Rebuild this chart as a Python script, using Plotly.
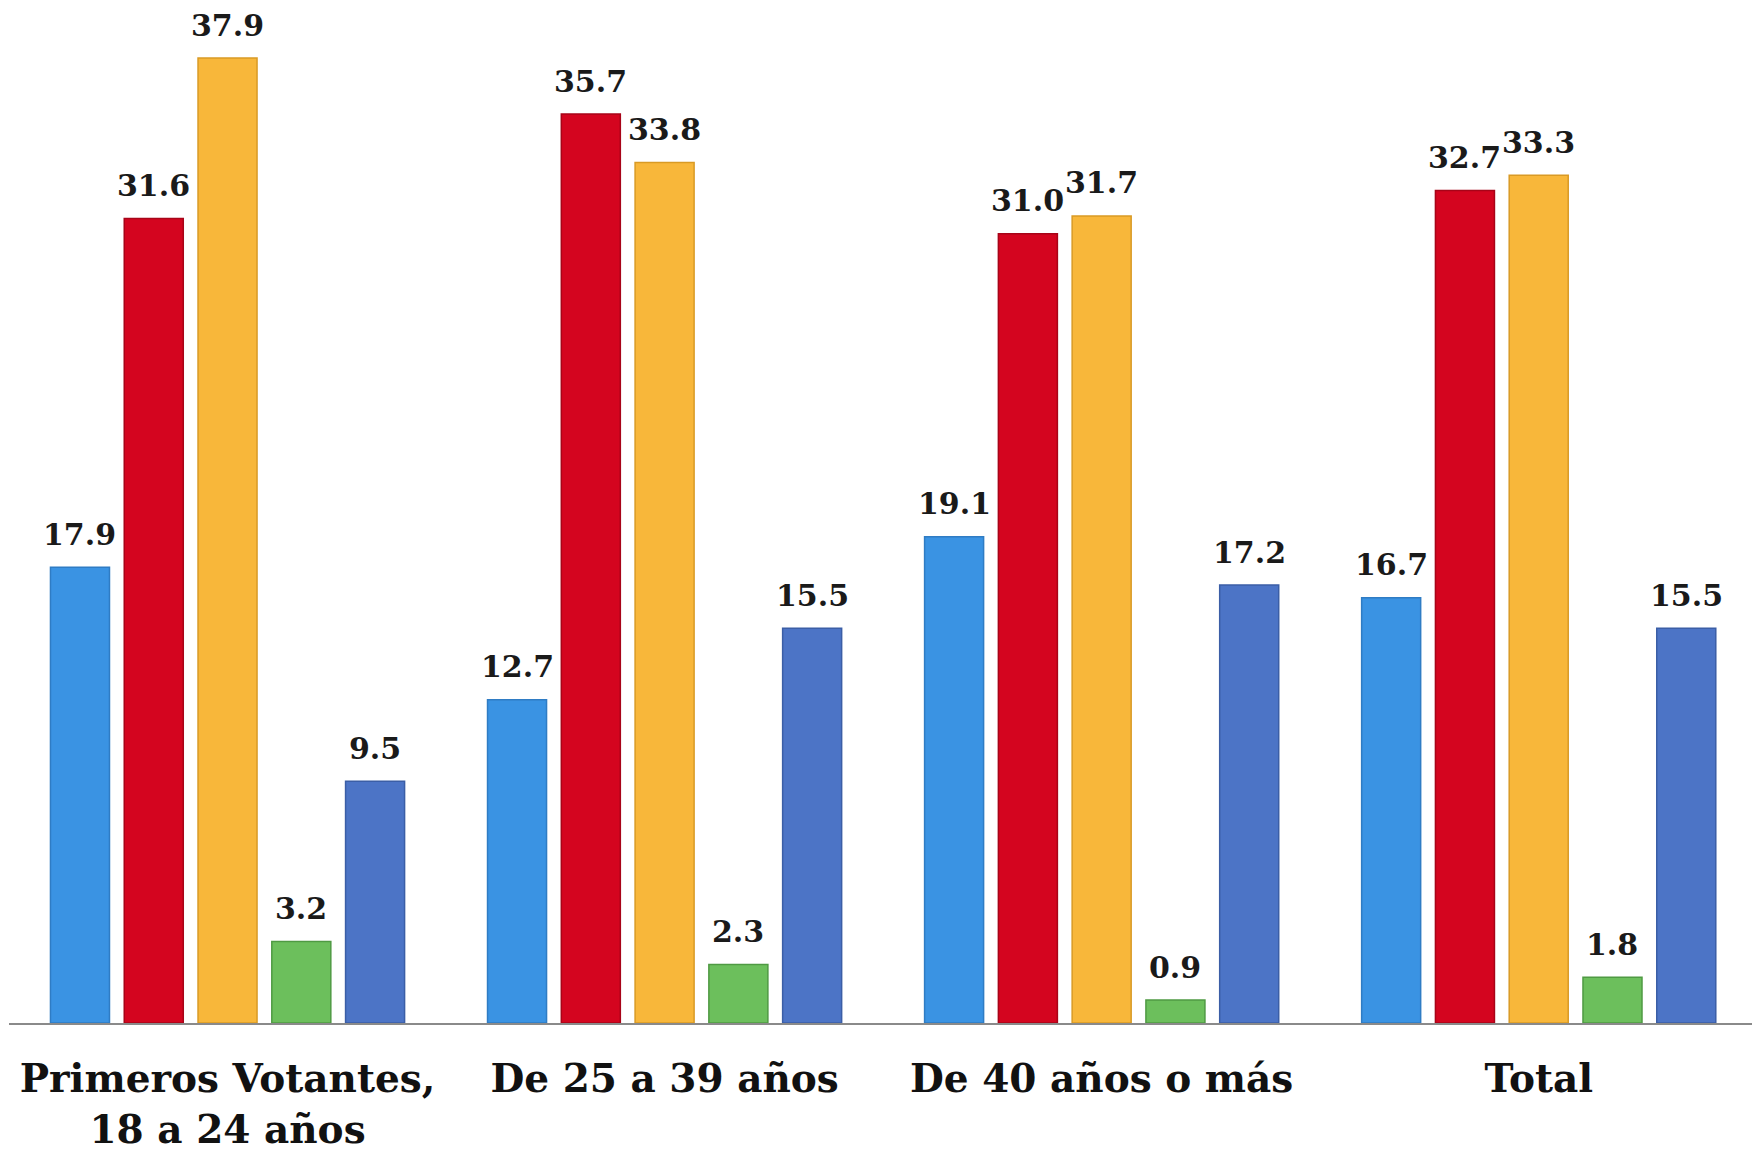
import plotly.graph_objects as go

categories = ["Primeros Votantes,<br>18 a 24 años", "De 25 a 39 años", "De 40 años o más", "Total"]
series_names = ["Serie 1", "Serie 2", "Serie 3", "Serie 4", "Serie 5"]
s1 = [17.9, 12.7, 19.1, 16.7]
s2 = [31.6, 35.7, 31.0, 32.7]
s3 = [37.9, 33.8, 31.7, 33.3]
s4 = [3.2, 2.3, 0.9, 1.8]
s5 = [9.5, 15.5, 17.2, 15.5]
colors = ["#3a93e3", "#d4051f", "#f8b73a", "#6cbf5c", "#4c74c6"]
edge = ["#2f7cc4", "#a80418", "#d99a25", "#4f9a43", "#3b5ea6"]

BARGAP = 0.156
series = [s1, s2, s3, s4, s5]
nser = len(series)
slot = (1 - BARGAP) / nser

fig = go.Figure()
annotations = []
for j, (name, vals, c, e) in enumerate(zip(series_names, series, colors, edge)):
    fig.add_trace(go.Bar(
        x=categories, y=vals, name=name,
        marker=dict(color=c, line=dict(color=e, width=1.5)),
        hoverinfo="x+y",
    ))
    for i, v in enumerate(vals):
        annotations.append(dict(
            x=i + (j - (nser - 1) / 2) * slot, y=v, xref="x", yref="y",
            text=f"{v:.1f}", showarrow=False, yanchor="middle", xanchor="center",
            yshift=33,
            font=dict(family="DejaVu Serif", size=30, color="#1a1a1a", weight="bold"),
        ))

fig.update_layout(
    width=1752, height=1153,
    margin=dict(l=9, r=0, t=0, b=130),
    barmode="group", bargap=BARGAP, bargroupgap=0.2,
    plot_bgcolor="white", paper_bgcolor="white",
    showlegend=False,
    annotations=annotations,
    xaxis=dict(showline=True, linecolor="#8a8a8a", linewidth=2, ticks="",
               automargin=False, range=[-0.5, 3.488],
               ticklabelstandoff=20,
               tickfont=dict(family="DejaVu Serif", size=39, color="#111111", weight="bold")),
    yaxis=dict(visible=False, range=[0, 40.18], automargin=False),
)
fig.write_html("out.html", config={"displayModeBar": False},
               post_script="document.body.style.margin='0';document.body.style.overflow='hidden';")
